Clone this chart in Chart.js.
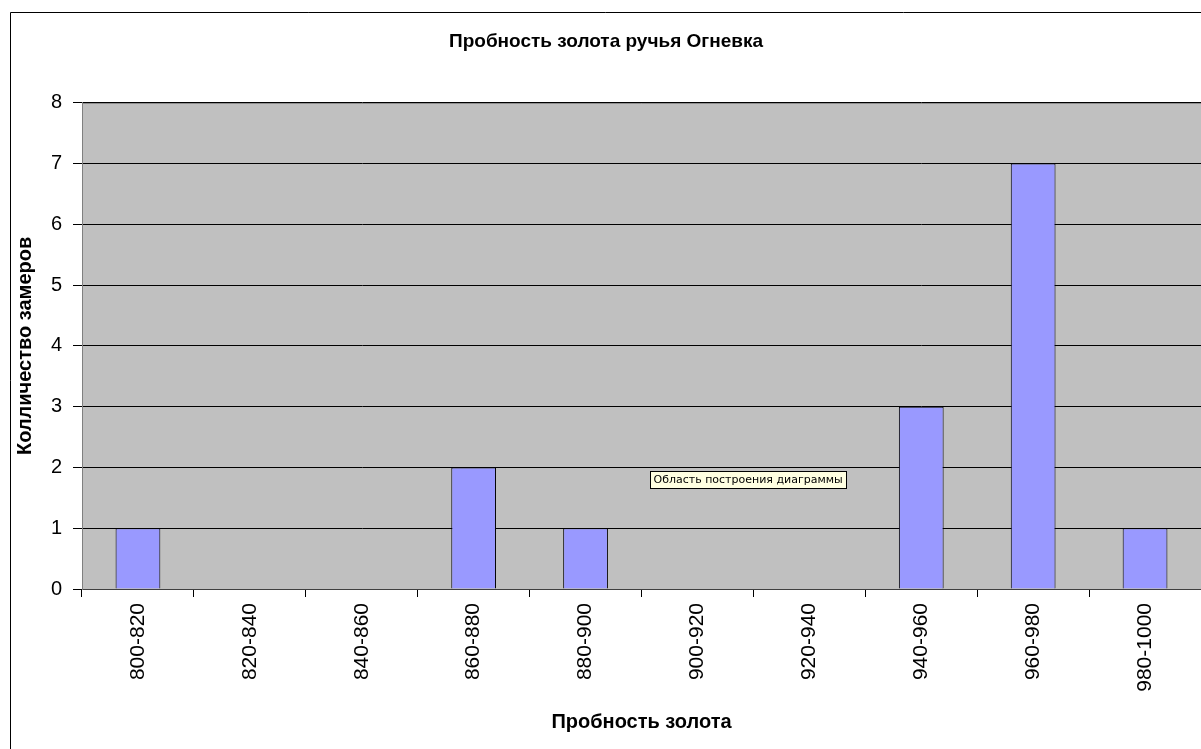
<!DOCTYPE html>
<html>
<head>
<meta charset="utf-8">
<script src="https://cdn.jsdelivr.net/npm/chart.js@4.4.0/dist/chart.umd.min.js"></script>
<style>
    body { margin: 0; background: #fff; }
    #wrap { width: 1201px; height: 749px; }
</style>
</head>
<body>
<div id="wrap"><canvas id="probaChart" width="1201" height="749"></canvas></div>
<script>
const categories = ['800-820', '820-840', '840-860', '860-880', '880-900', '900-920', '920-940', '940-960', '960-980', '980-1000'];
const counts = [1, 0, 0, 2, 1, 0, 0, 3, 7, 1];
const yTicks = [0, 1, 2, 3, 4, 5, 6, 7, 8];
const chartTitle = 'Пробность золота ручья Огневка';
const xTitle = 'Пробность золота';
const yTitle = 'Колличество замеров';
const hintText = 'Область построения диаграммы';

const fontFamily = '"Liberation Sans", Arial, sans-serif';

// фон области построения, рамка диаграммы и всплывающая подсказка
const excelLook = {
    id: 'excelLook',
    beforeDraw(chart) {
        const ctx = chart.ctx;
        const a = chart.chartArea;
        ctx.save();
        ctx.strokeStyle = '#000';
        ctx.lineWidth = 1;
        ctx.beginPath();
        ctx.moveTo(10.5, 749);
        ctx.lineTo(10.5, 12.5);
        ctx.lineTo(1201, 12.5);
        ctx.stroke();
        ctx.fillStyle = '#C0C0C0';
        ctx.fillRect(a.left, a.top, a.right - a.left, a.bottom - a.top);
        ctx.strokeStyle = '#808080';
        ctx.beginPath();
        ctx.moveTo(a.left, a.top + 0.5);
        ctx.lineTo(a.right, a.top + 0.5);
        ctx.stroke();
        ctx.restore();
    },
    afterDraw(chart) {
        const ctx = chart.ctx;
        const y = chart.scales.y;
        const x = chart.scales.x;
        const bx = Math.round(x.getPixelForValue(4.58)) + 0.5;
        const by = Math.round(y.getPixelForValue(2)) + 4.5;
        ctx.save();
        ctx.font = '11px "DejaVu Sans", Tahoma, sans-serif';
        const w = Math.ceil(ctx.measureText(hintText).width) + 6;
        ctx.fillStyle = '#FFFFE1';
        ctx.fillRect(bx, by, w, 17);
        ctx.strokeStyle = '#000';
        ctx.lineWidth = 1;
        ctx.strokeRect(bx, by, w, 17);
        ctx.fillStyle = '#000';
        ctx.textBaseline = 'middle';
        ctx.fillText(hintText, bx + 3, by + 9);
        ctx.restore();
    }
};

const ctx = document.getElementById('probaChart').getContext('2d');
new Chart(ctx, {
    type: 'bar',
    data: {
        labels: categories,
        datasets: [{
            label: 'Количество',
            data: counts,
            backgroundColor: '#9999FF',
            borderColor: '#000000',
            borderWidth: 1,
            barPercentage: 0.4,
            categoryPercentage: 1.0
        }]
    },
    options: {
        responsive: false,
        animation: false,
        layout: {
            padding: { left: 11, right: 0, top: 0, bottom: 0 }
        },
        scales: {
            x: {
                grid: {
                    offset: true,
                    drawOnChartArea: false,
                    drawTicks: true,
                    tickLength: 8,
                    color: '#000'
                },
                border: { color: '#404040' },
                ticks: {
                    color: '#000',
                    font: { family: fontFamily, size: 21 },
                    minRotation: 90,
                    maxRotation: 90,
                    padding: 6,
                    autoSkip: false
                },
                title: {
                    display: true,
                    text: xTitle,
                    color: '#000',
                    font: { family: fontFamily, size: 20, weight: 'bold' },
                    padding: { top: 0, bottom: 15 }
                },
                afterFit(scale) { scale.height = 160; }
            },
            y: {
                min: 0,
                max: 8,
                afterBuildTicks(scale) {
                    scale.ticks = yTicks.map(v => ({ value: v }));
                },
                grid: {
                    color: '#000',
                    tickLength: 9
                },
                border: { color: '#808080' },
                ticks: {
                    color: '#000',
                    font: { family: fontFamily, size: 20 },
                    padding: 11
                },
                title: {
                    display: true,
                    text: yTitle,
                    color: '#000',
                    font: { family: fontFamily, size: 20, weight: 'bold' },
                    padding: { top: 2, bottom: 0 }
                },
                afterFit(scale) { scale.width = 71; }
            }
        },
        plugins: {
            legend: { display: false },
            tooltip: { enabled: false },
            title: {
                display: true,
                text: chartTitle,
                color: '#000',
                font: { family: fontFamily, size: 19, weight: 'bold' },
                padding: { top: 30.5, bottom: 49.5 }
            }
        }
    },
    plugins: [excelLook]
});
</script>
</body>
</html>
